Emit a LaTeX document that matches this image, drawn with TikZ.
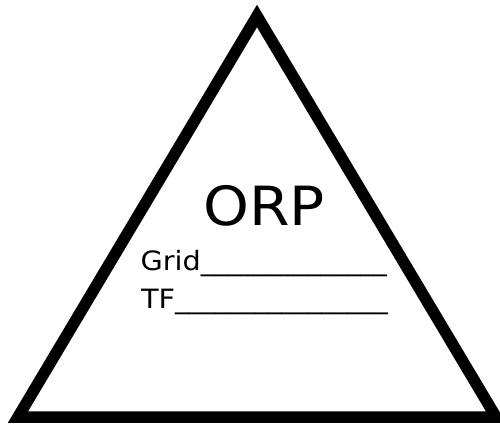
\documentclass[tikz,border=0pt]{standalone}
\usepackage{fontspec}
\setmainfont{DejaVu Sans}
\newfontfamily\widefont[FakeStretch=1.08]{DejaVu Sans}
\begin{document}
\begin{tikzpicture}[x=1pt,y=-1pt,
  tri/.style={draw=black,line width=11.5pt,line join=miter,miter limit=10},
  label/.style={inner sep=0pt,outer sep=0pt,anchor=base west,font=\fontsize{26.6}{30}\selectfont},
  title/.style={inner sep=0pt,outer sep=0pt,anchor=base,font=\widefont\fontsize{54}{60}\selectfont}]
\useasboundingbox (0,0) rectangle (500,423);
\fill[white] (0,0) rectangle (500,423);
\coordinate (apex) at (257,16);
\coordinate (bl) at (18,417);
\coordinate (br) at (496,417);
\draw[tri] (apex) -- (bl) -- (br) -- cycle;
\node[title] (orp) at (264,225) {ORP};
\node[label] (grid) at (140.5,270) {{\widefont Grid}\_\_\_\_\_\_\_\_\_\_\_\_\_\_};
\node[label] (tf) at (141,308) {{\widefont TF}\_\_\_\_\_\_\_\_\_\_\_\_\_\_\_\_};
\end{tikzpicture}
\end{document}
